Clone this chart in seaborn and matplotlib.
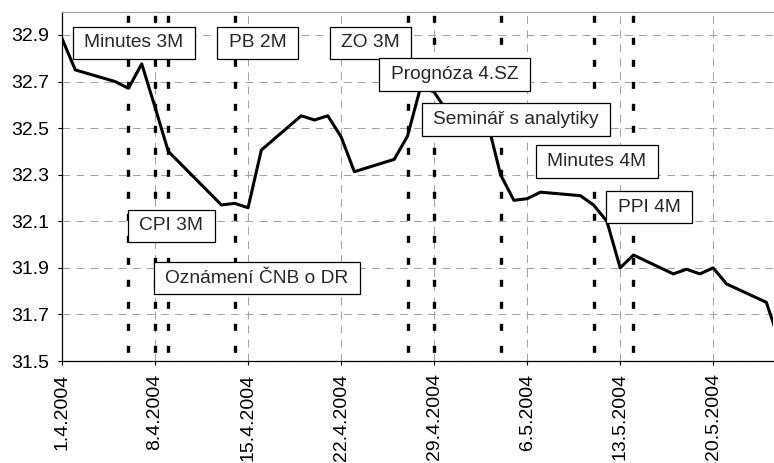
import matplotlib
matplotlib.use("Agg")
import matplotlib.pyplot as plt
from matplotlib.path import Path
import pandas as pd
import seaborn as sns

# CZK/EUR exchange rate, daily fixing, April - May 2004
dates = [
    "2004-04-01", "2004-04-02", "2004-04-05", "2004-04-06", "2004-04-07",
    "2004-04-08", "2004-04-09", "2004-04-13", "2004-04-14", "2004-04-15",
    "2004-04-16", "2004-04-19", "2004-04-20", "2004-04-21", "2004-04-22",
    "2004-04-23", "2004-04-26", "2004-04-27", "2004-04-28", "2004-04-29",
    "2004-04-30", "2004-05-03", "2004-05-04", "2004-05-05", "2004-05-06",
    "2004-05-07", "2004-05-10", "2004-05-11", "2004-05-12", "2004-05-13",
    "2004-05-14", "2004-05-17", "2004-05-18", "2004-05-19", "2004-05-20",
    "2004-05-21", "2004-05-24", "2004-05-25",
]
rate = [
    32.885, 32.750, 32.700, 32.671, 32.776,
    32.590, 32.400, 32.170, 32.177, 32.158,
    32.406, 32.553, 32.535, 32.553, 32.463,
    32.313, 32.366, 32.466, 32.680, 32.655,
    32.570, 32.530, 32.300, 32.190, 32.197,
    32.225, 32.210, 32.170, 32.100, 31.900,
    31.955, 31.874, 31.894, 31.874, 31.900,
    31.831, 31.752, 31.580,
]

# days with scheduled events (vertical markers)
event_dates = [
    "2004-04-06", "2004-04-08", "2004-04-09", "2004-04-14", "2004-04-27",
    "2004-04-29", "2004-05-04", "2004-05-11", "2004-05-14",
]

# event captions and where they sit (day offset from 1.4.2004, rate level)
event_labels = [
    "Minutes 3M", "PB 2M", "ZO 3M", "Prognóza 4.SZ", "Seminář s analytiky",
    "Minutes 4M", "PPI 4M", "CPI 3M", "Oznámení ČNB o DR",
]
label_day = [5.39, 14.73, 23.21, 29.54, 34.15, 40.23, 44.18, 8.21, 14.67]
label_level = [32.867, 32.867, 32.867, 32.730, 32.537, 32.356, 32.160, 32.081, 31.856]

tick_dates = pd.date_range("2004-04-01", periods=8, freq="7D")
tick_labels = ["1.4.2004", "8.4.2004", "15.4.2004", "22.4.2004",
               "29.4.2004", "6.5.2004", "13.5.2004", "20.5.2004"]
y_ticks = [31.5, 31.7, 31.9, 32.1, 32.3, 32.5, 32.7, 32.9]

df = pd.DataFrame({"date": pd.to_datetime(dates), "rate": rate})
start = pd.Timestamp("2004-04-01")

sns.set_style("white")
plt.rcParams["font.family"] = ["Liberation Sans", "DejaVu Sans"]

fig = plt.figure(figsize=(7.74, 4.63), dpi=100)
ax = fig.add_axes([62 / 774, 1 - 361 / 463, 711 / 774, (361 - 11.7) / 463])

grid_kw = dict(color="#a3a3a3", lw=0.75, dashes=(7.5, 6.0), zorder=1)
ax.grid(False)
for y in y_ticks:
    ax.axhline(y, **grid_kw)
for d in tick_dates[1:]:
    ax.axvline(d, **grid_kw)

# event markers
ax.vlines(pd.to_datetime(event_dates), 31.5, 33.05, colors="black",
          linewidth=2.4, linestyles=(4.0, (2.1, 4.5)), zorder=2)

sns.lineplot(data=df, x="date", y="rate", color="black", linewidth=2.2,
             ax=ax, zorder=3)


def label_box(x0, y0, width, height, mutation_size):
    # rectangle with wider horizontal than vertical padding
    px = 0.60 * mutation_size
    py = 0.40 * mutation_size
    x0, y0 = x0 - px, y0 - py
    x1, y1 = x0 + width + 2 * px, y0 + height + 2 * py
    return Path([(x0, y0), (x1, y0), (x1, y1), (x0, y1), (x0, y0)],
                closed=True)


for text, d, lev in zip(event_labels, label_day, label_level):
    ax.text(start + pd.Timedelta(days=d), lev, text, fontsize=13.8,
            ha="center", va="center", zorder=5,
            bbox=dict(boxstyle=label_box, facecolor="white",
                      edgecolor="black", linewidth=0.9))

ax.set_xlim(start, start + pd.Timedelta(days=53.5))
ax.set_ylim(31.5, 33.0)
ax.set_yticks(y_ticks)
ax.set_yticklabels([f"{v:.1f}" for v in y_ticks])
ax.set_xticks(tick_dates)
ax.set_xticklabels(tick_labels, rotation=90)
ax.set_xlabel("")
ax.set_ylabel("")

ax.tick_params(axis="both", direction="out", length=3, width=0.8,
               color="black", labelsize=14, labelcolor="black")
ax.tick_params(axis="y", pad=6)
ax.tick_params(axis="x", pad=6)
ax.tick_params(top=False, right=False, bottom=True, left=True)

for side in ("left", "bottom"):
    ax.spines[side].set_color("black")
    ax.spines[side].set_linewidth(0.9)
ax.spines["top"].set_color("#a3a3a3")
ax.spines["top"].set_linewidth(0.9)
ax.spines["right"].set_visible(False)

fig.savefig("out.png", dpi=100)
